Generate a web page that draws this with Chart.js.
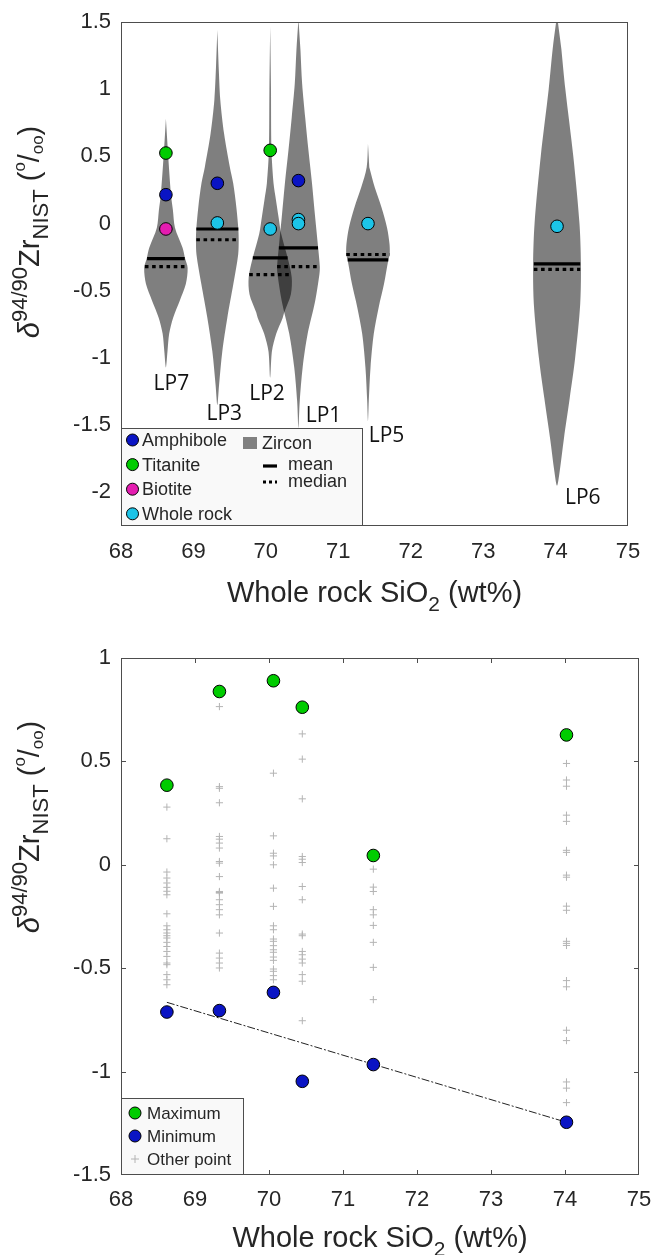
<!DOCTYPE html>
<html>
<head>
<meta charset="utf-8">
<script src="https://cdn.jsdelivr.net/npm/chart.js@4.4.0/dist/chart.umd.min.js"></script>
<style>
  html, body { margin: 0; padding: 0; background: #fff; }
  #wrap { position: relative; width: 651px; height: 1255px; }
  canvas { position: absolute; left: 0; }
  #topChart { top: 0; }
  #bottomChart { top: 620px; }
</style>
</head>
<body>
<div id="wrap">
  <canvas id="topChart" width="651" height="620"></canvas>
  <canvas id="bottomChart" width="651" height="635"></canvas>
</div>
<script>
// ============ Data ============
// samples ordered by whole rock SiO2 (wt%)
const samples = ['LP7', 'LP3', 'LP2', 'LP1', 'LP5', 'LP6'];
const sio2 = [68.62, 69.33, 70.06, 70.45, 71.41, 74.02];

const xTicks = [68, 69, 70, 71, 72, 73, 74, 75];
const yTicksTop = [-2, -1.5, -1, -0.5, 0, 0.5, 1, 1.5];
const yTicksBottom = [-1.5, -1, -0.5, 0, 0.5, 1];

// zircon distributions: delta values and kernel half-widths (wt% units)
const lp7Y = [0.78, 0.53, 0.215, 0.10, -0.03, -0.18, -0.26, -0.33, -0.45, -0.575, -0.70, -0.82, -0.95, -1.07];
const lp7W = [0, 0.028, 0.07, 0.097, 0.125, 0.23, 0.265, 0.30, 0.275, 0.19, 0.10, 0.045, 0.022, 0];
const lp3Y = [1.44, 1.17, 0.92, 0.67, 0.42, 0.30, 0.12, -0.04, -0.12, -0.23, -0.45, -0.70, -0.95, -1.2, -1.35];
const lp3W = [0, 0.018, 0.041, 0.093, 0.173, 0.219, 0.263, 0.29, 0.295, 0.288, 0.221, 0.138, 0.069, 0.024, 0];
const lp2Y = [1.465, 1.0, 0.545, 0.30, 0.174, 0.05, -0.077, -0.25, -0.40, -0.525, -0.66, -0.70, -0.82, -0.95, -1.146];
const lp2W = [0, 0.011, 0.018, 0.046, 0.080, 0.115, 0.152, 0.239, 0.297, 0.286, 0.194, 0.173, 0.083, 0.024, 0];
const lp1Y = [1.52, 1.29, 1.04, 0.79, 0.545, 0.30, 0.045, -0.18, -0.32, -0.375, -0.575, -0.82, -1.07, -1.32, -1.52];
const lp1W = [0, 0.028, 0.051, 0.093, 0.138, 0.187, 0.231, 0.272, 0.295, 0.29, 0.231, 0.127, 0.058, 0.018, 0];
const lp5Y = [0.595, 0.42, 0.27, 0.12, -0.03, -0.15, -0.23, -0.27, -0.45, -0.62, -0.82, -1.07, -1.32, -1.47];
const lp5W = [0, 0.018, 0.093, 0.187, 0.263, 0.297, 0.30, 0.281, 0.221, 0.149, 0.080, 0.035, 0.011, 0];
const lp6Y = [1.55, 1.3, 1.0, 0.5, 0.0, -0.3, -0.6, -1.0, -1.3, -1.6, -1.85, -1.95];
const lp6W = [0, 0.06, 0.115, 0.225, 0.31, 0.33, 0.32, 0.25, 0.175, 0.095, 0.035, 0];

// zircon mean / median and the kernel half-width at those levels
const zrMean = [-0.26, -0.04, -0.255, -0.18, -0.27, -0.30];
const zrMedian = [-0.32, -0.12, -0.38, -0.32, -0.23, -0.34];
const meanHalf = [0.26, 0.29, 0.24, 0.27, 0.28, 0.32];
const medianHalf = [0.29, 0.29, 0.29, 0.295, 0.30, 0.32];

// other phases
const amphX = [68.62, 69.33, 70.45];
const amphY = [0.215, 0.30, 0.32];
const titX = [68.62, 70.06];
const titY = [0.525, 0.545];
const bioX = [68.62];
const bioY = [-0.04];
const wrX = [69.33, 70.06, 70.45, 70.45, 71.41, 74.02];
const wrY = [0.005, -0.04, 0.03, 0.0, 0.0, -0.02];

// sample name anchors (left edge of text)
const labelX = [68.45, 69.18, 69.77, 70.55, 71.42, 74.13];
const labelY = [-1.19, -1.42, -1.27, -1.43, -1.58, -2.045];

// single zircon analyses
const maxD = [0.385, 0.838, 0.890, 0.762, 0.045, 0.628];
const minD = [-0.712, -0.705, -0.617, -1.047, -0.966, -1.245];
const other7 = [0.279, 0.126, -0.035, -0.064, -0.088, -0.109, -0.128, -0.145, -0.237, -0.295, -0.314, -0.330, -0.343, -0.354, -0.375, -0.395, -0.419, -0.443, -0.475, -0.483, -0.531, -0.556, -0.580];
const other3 = [0.765, 0.378, 0.370, 0.30, 0.137, 0.124, 0.105, 0.081, 0.016, 0.008, -0.057, -0.129, -0.134, -0.137, -0.169, -0.193, -0.217, -0.242, -0.33, -0.427, -0.451, -0.475, -0.499];
const other2 = [0.443, 0.140, 0.056, 0.043, 0.0, -0.113, -0.201, -0.295, -0.314, -0.359, -0.370, -0.391, -0.411, -0.423, -0.446, -0.462, -0.504, -0.515, -0.536, -0.556];
const other1 = [0.633, 0.511, 0.319, 0.040, 0.027, 0.011, -0.105, -0.169, -0.335, -0.343, -0.419, -0.435, -0.456, -0.475, -0.531, -0.563, -0.754];
const other5 = [-0.021, -0.108, -0.129, -0.217, -0.242, -0.293, -0.375, -0.496, -0.652];
const other6 = [0.49, 0.41, 0.38, 0.24, 0.21, 0.07, 0.06, -0.05, -0.06, -0.20, -0.22, -0.37, -0.38, -0.39, -0.56, -0.59, -0.80, -0.85, -1.05, -1.08, -1.15];

// regression through the minima
const fitX = [68.62, 74.02];
const fitY = [-0.665, -1.245];

// ============ Styles ============
const SANS = "'Liberation Sans', Arial, Helvetica, sans-serif";
const TEXT = '#262626';
const FRAME = '#4d4d4d';
const GREEN = '#00cc00';
const BLUE = '#0a14c4';
const MAGENTA = '#e41cb0';
const CYAN = '#1cc4e8';
const ZIRCON = 'rgba(0, 0, 0, 0.5)';
const CROSS = '#b4b4b4';

Chart.defaults.font.family = SANS;
Chart.defaults.color = TEXT;
Chart.defaults.animation = false;

// ============ Helpers ============
function toPoints(xs, ys) {
  return xs.map((x, i) => ({x: x, y: ys[i]}));
}

function violinOutline(center, ys, ws) {
  const left = ys.map((y, i) => ({x: center - ws[i], y: y}));
  const right = ys.map((y, i) => ({x: center + ws[i], y: y})).reverse();
  return left.concat(right.slice(1, -1));
}

function barSegments(values, halves) {
  const pts = [];
  values.forEach((v, i) => {
    pts.push({x: sio2[i] - halves[i], y: v}, {x: sio2[i] + halves[i], y: v}, {x: sio2[i], y: null});
  });
  return pts;
}

// fixed axis sizes so the plot boxes land where we want them
function axes(yMin, yMax, yTicks, xHeight, xPad) {
  return {
    x: {
      type: 'linear', min: 68, max: 75,
      afterBuildTicks: s => { s.ticks = xTicks.map(v => ({value: v})); },
      afterFit: s => { s.height = xHeight; s.paddingLeft = 0; s.paddingRight = 0; },
      grid: {display: false, drawTicks: false},
      border: {display: false},
      ticks: {padding: xPad, font: {size: 22}, color: TEXT, maxRotation: 0, autoSkip: false, callback: v => String(v)}
    },
    y: {
      type: 'linear', min: yMin, max: yMax,
      afterBuildTicks: s => { s.ticks = yTicks.map(v => ({value: v})); },
      afterFit: s => { s.width = 121; s.paddingTop = 0; s.paddingBottom = 0; },
      grid: {display: false, drawTicks: false},
      border: {display: false},
      ticks: {padding: 10, font: {size: 22}, color: TEXT, autoSkip: false, callback: v => String(v)}
    }
  };
}

// draws text pieces with sub/superscripts; y is the baseline
function richWidth(ctx, parts, size, family) {
  let w = 0;
  parts.forEach(p => {
    ctx.font = (p.italic ? 'italic ' : '') + (size * (p.s || 1)) + 'px ' + family;
    w += ctx.measureText(p.t).width;
  });
  return w;
}

function drawRich(ctx, parts, x, y, size, family) {
  let cx = x;
  ctx.textAlign = 'left';
  ctx.textBaseline = 'alphabetic';
  parts.forEach(p => {
    ctx.font = (p.italic ? 'italic ' : '') + (size * (p.s || 1)) + 'px ' + family;
    ctx.fillText(p.t, cx, y + (p.dy || 0) * size);
    cx += ctx.measureText(p.t).width;
  });
}

const xTitle = [{t: 'Whole rock SiO'}, {t: '2', s: 0.72, dy: 0.3}, {t: ' (wt%)'}];
const yTitle = [
  {t: 'δ', italic: true}, {t: '94/90', s: 0.76, dy: -0.42}, {t: 'Zr'}, {t: 'NIST', s: 0.76, dy: 0.3},
  {t: ' ('}, {t: 'o', s: 0.58, dy: -0.5}, {t: '/'}, {t: 'oo', s: 0.58, dy: 0.15}, {t: ')'}
];

function drawTitles(ctx, area, xTitleY, yTitleCenter) {
  ctx.save();
  ctx.fillStyle = TEXT;
  const xs = 29;
  const xw = richWidth(ctx, xTitle, xs, SANS);
  drawRich(ctx, xTitle, (area.left + area.right) / 2 - xw / 2, xTitleY + 10, xs, SANS);

  const ys = 29;
  const yw = richWidth(ctx, yTitle, ys, SANS);
  ctx.translate(28, yTitleCenter);
  ctx.rotate(-Math.PI / 2);
  drawRich(ctx, yTitle, -yw / 2, 11, ys, SANS);
  ctx.restore();
}

function drawFrame(ctx, a) {
  ctx.save();
  ctx.strokeStyle = FRAME;
  ctx.lineWidth = 1;
  ctx.strokeRect(a.left + 0.5, a.top + 0.5, a.right - a.left - 1, a.bottom - a.top - 1);
  ctx.restore();
}

function legendCircle(ctx, x, y, color) {
  ctx.beginPath();
  ctx.arc(x, y, 6, 0, Math.PI * 2);
  ctx.fillStyle = color;
  ctx.fill();
  ctx.strokeStyle = '#000';
  ctx.lineWidth = 1;
  ctx.stroke();
}

// ============ Top chart: zircon violins ============
const violins = [[lp7Y, lp7W], [lp3Y, lp3W], [lp2Y, lp2W], [lp1Y, lp1W], [lp5Y, lp5W], [lp6Y, lp6W]];

const pointBase = {showLine: false, pointRadius: 6.3, pointHoverRadius: 6.3, borderColor: '#000', borderWidth: 1, order: 0};

const topDatasets = [
  {label: 'Amphibole', data: toPoints(amphX, amphY), backgroundColor: BLUE, ...pointBase},
  {label: 'Titanite', data: toPoints(titX, titY), backgroundColor: GREEN, ...pointBase},
  {label: 'Biotite', data: toPoints(bioX, bioY), backgroundColor: MAGENTA, ...pointBase},
  {label: 'Whole rock', data: toPoints(wrX, wrY), backgroundColor: CYAN, ...pointBase},
  {label: 'mean', data: barSegments(zrMean, meanHalf), showLine: true, borderColor: '#000', borderWidth: 3.2,
   borderCapStyle: 'butt', pointRadius: 0, spanGaps: false, order: 1},
  {label: 'median', data: barSegments(zrMedian, medianHalf), showLine: true, borderColor: '#000', borderWidth: 3.2,
   borderDash: [3.6, 3.6], borderCapStyle: 'butt', pointRadius: 0, spanGaps: false, order: 1}
];
violins.forEach((v, i) => {
  topDatasets.push({
    label: 'Zircon ' + samples[i],
    data: violinOutline(sio2[i], v[0], v[1]),
    showLine: true, fill: 'shape', tension: 0.3,
    backgroundColor: ZIRCON, borderColor: 'rgba(0,0,0,0)', borderWidth: 0,
    pointRadius: 0, order: 2
  });
});

const topDecor = {
  id: 'topDecor',
  afterDraw(chart) {
    const {ctx, chartArea: a, scales} = chart;
    drawFrame(ctx, a);
    drawTitles(ctx, a, 592, 232);

    // sample names
    ctx.save();
    ctx.fillStyle = '#111';
    ctx.font = "21px 'Open Sans', sans-serif";
    ctx.textAlign = 'left';
    ctx.textBaseline = 'middle';
    samples.forEach((s, i) => {
      ctx.fillText(s, scales.x.getPixelForValue(labelX[i]), scales.y.getPixelForValue(labelY[i]));
    });
    ctx.restore();

    // legend
    const L = a.left, B = a.bottom;
    ctx.save();
    ctx.fillStyle = '#f9f9f9';
    ctx.fillRect(L, B - 98, 241, 98);
    ctx.strokeStyle = FRAME;
    ctx.lineWidth = 1;
    ctx.strokeRect(L + 0.5, B - 97.5, 241, 97);
    const minerals = [['Amphibole', BLUE], ['Titanite', GREEN], ['Biotite', MAGENTA], ['Whole rock', CYAN]];
    ctx.font = '18px ' + SANS;
    ctx.textBaseline = 'middle';
    minerals.forEach((m, i) => {
      const y = B - 86 + i * 24.6;
      legendCircle(ctx, L + 11.5, y, m[1]);
      ctx.fillStyle = TEXT;
      ctx.fillText(m[0], L + 21, y + 1);
    });
    ctx.fillStyle = '#808080';
    ctx.fillRect(L + 122, B - 89, 14, 12);
    ctx.fillStyle = TEXT;
    ctx.fillText('Zircon', L + 141, B - 82);
    ctx.strokeStyle = '#000';
    ctx.lineWidth = 3.2;
    ctx.beginPath();
    ctx.moveTo(L + 142, B - 60);
    ctx.lineTo(L + 156, B - 60);
    ctx.stroke();
    ctx.setLineDash([3, 3]);
    ctx.beginPath();
    ctx.moveTo(L + 142, B - 44);
    ctx.lineTo(L + 156, B - 44);
    ctx.stroke();
    ctx.setLineDash([]);
    ctx.fillText('mean', L + 167, B - 61);
    ctx.fillText('median', L + 167, B - 44);
    ctx.restore();
  }
};

new Chart(document.getElementById('topChart'), {
  type: 'scatter',
  data: {datasets: topDatasets},
  options: {
    responsive: false,
    events: [],
    layout: {padding: {top: 22, right: 23, left: 0, bottom: 0}},
    plugins: {legend: {display: false}, tooltip: {enabled: false}},
    scales: axes(-2.25, 1.5, yTicksTop, 94, 13)
  },
  plugins: [topDecor]
});

// ============ Bottom chart: single analyses ============
const otherCols = [other7, other3, other2, other1, other5, other6];
const otherPts = [];
otherCols.forEach((col, i) => {
  col.forEach(v => otherPts.push({x: sio2[i], y: v}));
});

const bottomDatasets = [
  {label: 'Maximum', data: toPoints(sio2, maxD), backgroundColor: GREEN, ...pointBase},
  {label: 'Minimum', data: toPoints(sio2, minD), backgroundColor: BLUE, ...pointBase},
  {label: 'fit', data: toPoints(fitX, fitY), showLine: true, borderColor: '#222', borderWidth: 1,
   borderDash: [8, 2, 2, 2], pointRadius: 0, order: 1},
  {label: 'Other point', data: otherPts, pointStyle: 'cross', pointRadius: 3.6, borderColor: CROSS,
   backgroundColor: CROSS, borderWidth: 1, order: 2}
];

const bottomDecor = {
  id: 'bottomDecor',
  afterDraw(chart) {
    const {ctx, chartArea: a, scales} = chart;
    drawFrame(ctx, a);

    // inward ticks on all four sides
    ctx.save();
    ctx.strokeStyle = FRAME;
    ctx.lineWidth = 1;
    ctx.beginPath();
    xTicks.slice(1, -1).forEach(v => {
      const px = Math.round(scales.x.getPixelForValue(v)) + 0.5;
      ctx.moveTo(px, a.bottom); ctx.lineTo(px, a.bottom - 5);
      ctx.moveTo(px, a.top); ctx.lineTo(px, a.top + 5);
    });
    yTicksBottom.slice(1, -1).forEach(v => {
      const py = Math.round(scales.y.getPixelForValue(v)) + 0.5;
      ctx.moveTo(a.left, py); ctx.lineTo(a.left + 5, py);
      ctx.moveTo(a.right, py); ctx.lineTo(a.right - 5, py);
    });
    ctx.stroke();
    ctx.restore();

    drawTitles(ctx, a, 617, 207);

    // legend
    const L = a.left, B = a.bottom;
    ctx.save();
    ctx.fillStyle = '#f9f9f9';
    ctx.fillRect(L, B - 77, 122, 77);
    ctx.strokeStyle = FRAME;
    ctx.lineWidth = 1;
    ctx.strokeRect(L + 0.5, B - 76.5, 122, 76);
    ctx.font = '17px ' + SANS;
    ctx.textBaseline = 'middle';
    legendCircle(ctx, L + 14, B - 62, GREEN);
    legendCircle(ctx, L + 14, B - 39, BLUE);
    ctx.strokeStyle = CROSS;
    ctx.beginPath();
    ctx.moveTo(L + 10, B - 16); ctx.lineTo(L + 18, B - 16);
    ctx.moveTo(L + 14, B - 20); ctx.lineTo(L + 14, B - 12);
    ctx.stroke();
    ctx.fillStyle = TEXT;
    ctx.fillText('Maximum', L + 26, B - 61);
    ctx.fillText('Minimum', L + 26, B - 38);
    ctx.fillText('Other point', L + 26, B - 15);
    ctx.restore();
  }
};

new Chart(document.getElementById('bottomChart'), {
  type: 'scatter',
  data: {datasets: bottomDatasets},
  options: {
    responsive: false,
    events: [],
    layout: {padding: {top: 38, right: 12, left: 0, bottom: 0}},
    plugins: {legend: {display: false}, tooltip: {enabled: false}},
    scales: axes(-1.5, 1, yTicksBottom, 80, 12)
  },
  plugins: [bottomDecor]
});
</script>
</body>
</html>
